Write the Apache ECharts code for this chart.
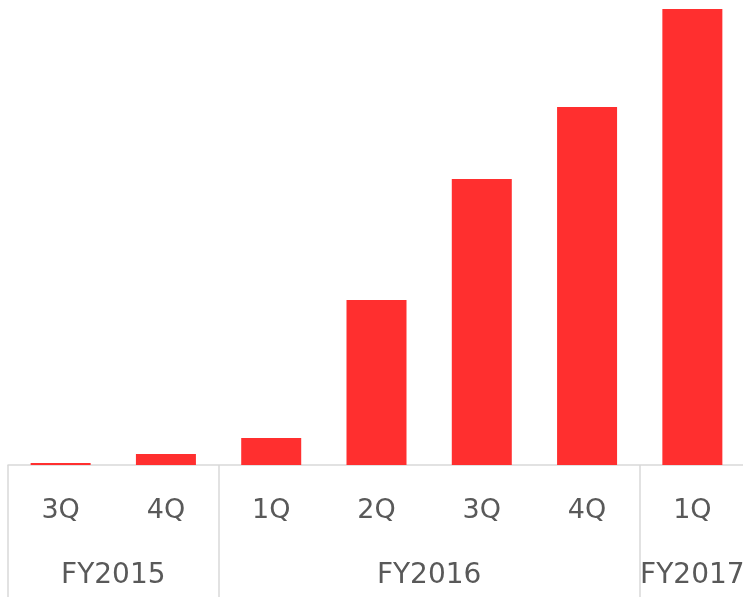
<!DOCTYPE html>
<html>
<head>
<meta charset="utf-8">
<script src="https://cdn.jsdelivr.net/npm/echarts@6/dist/echarts.min.js"></script>
<style>
  html, body { margin: 0; padding: 0; background: #fff; }
  #chart { width: 743px; height: 597px; }
</style>
</head>
<body>
<div id="chart"></div>
<script>
// quarters on the axis, fiscal years below them
const quarters = ["3Q", "4Q", "1Q", "2Q", "3Q", "4Q", "1Q"];
const values = [2, 11, 27, 165, 286, 358, 456];
const groupNames = ["FY2015", "FY2016", "FY2017"];
const groupCenters = [1, 4, 6.5]; // in band units
const groupBounds = [0, 2, 6];   // band index where each year starts

const textColor = "#595959";
const lineColor = "#d9d9d9";
const font = "DejaVu Sans";

const chart = echarts.init(document.getElementById("chart"));

chart.setOption({
	animation: false,
	grid: {left: 8, top: 0, width: 737, bottom: 132, containLabel: false, outerBoundsMode: "none"},
	xAxis: [
		{
			type: "category",
			data: quarters,
			position: "bottom",
			axisLine: {lineStyle: {color: lineColor, width: 1.5}},
			axisTick: {
				show: true,
				length: 140,
				lineStyle: {color: lineColor, width: 1.5},
				interval: (i) => groupBounds.includes(i),
			},
			axisLabel: {
				interval: 0,
				margin: 32,
				color: textColor,
				fontFamily: font,
				fontSize: 27,
			},
		},
		{
			type: "value",
			min: 0,
			max: 7,
			interval: 0.5,
			position: "bottom",
			offset: 0,
			splitLine: {show: false},
			axisLine: {show: false},
			axisTick: {show: false},
			axisLabel: {
				margin: 97,
				color: textColor,
				fontFamily: font,
				fontSize: 28,
				showMinLabel: true,
				showMaxLabel: true,
				formatter: (v) => {
					const k = groupCenters.indexOf(v);
					return k >= 0 ? groupNames[k] : "";
				},
			},
		},
	],
	yAxis: {
		type: "value",
		min: 0,
		max: 465,
		show: false,
	},
	series: [
		{
			type: "bar",
			data: values,
			xAxisIndex: 0,
			barWidth: 60,
			itemStyle: {color: "#ff2f2f"},
		},
	],
});
</script>
</body>
</html>
